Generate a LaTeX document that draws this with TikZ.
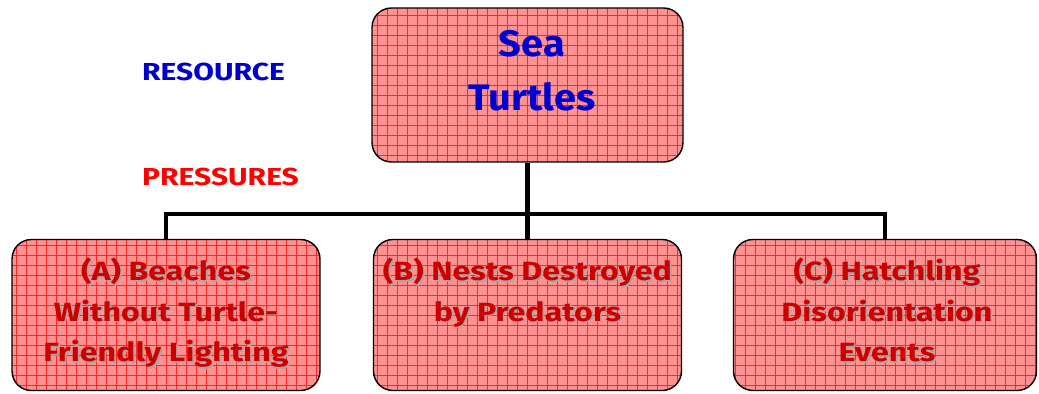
\documentclass[tikz,border=0pt]{standalone}
\usepackage{fontspec}
\setmainfont[FakeStretch=1.22]{Fira Sans}
\newfontfamily\topfont[FakeStretch=1.08]{Fira Sans}
\usepackage{tikz}
\usetikzlibrary{positioning}
\definecolor{boxfill}{RGB}{255,145,145}
\definecolor{gridcol}{RGB}{250,40,40}
\definecolor{rescol}{RGB}{0,0,204}
\definecolor{prescol}{RGB}{255,0,0}
\definecolor{txtred}{RGB}{204,0,0}
\newcommand{\shd}[1]{\rlap{\kern0.9pt\raisebox{-0.9pt}{\color{gray!70}#1}}#1}

\begin{document}
\begin{tikzpicture}[
  x=0.02cm, y=-0.02cm,
  font=\bfseries,
  gridbox/.style={draw=black, thick, rounded corners=11pt, fill=boxfill,
                  path picture={\draw[gridcol, line width=0.3pt, step=0.2cm]
                    (path picture bounding box.south west) grid (path picture bounding box.north east);}},
  pbox/.style={gridbox, minimum width=6.16cm, minimum height=3.02cm},
  ptxt/.style={anchor=north, align=center, text=txtred, font=\fontsize{15}{23}\selectfont\bfseries},
  tie/.style={line width=2.6pt, draw=black},
  ]
  \useasboundingbox (0,0) rectangle (1039,393);
  % resource
  \node[gridbox, minimum width=6.22cm, minimum height=3.08cm] (res) at (527.5,85) {};
  \node[anchor=north, align=center, text=rescol, font=\topfont\fontsize{21}{31}\selectfont\bfseries]
    (restxt) at (532,24) {Sea\\ Turtles};
  % pressures
  \node[pbox] (pa) at (166,315) {};
  \node[pbox] (pb) at (527.5,315) {};
  \node[pbox, minimum width=6.06cm] (pc) at (885,315) {};
  \node[ptxt] (pat) at (166,252) {\shd{(A) Beaches}\\ \shd{Without Turtle-}\\ \shd{Friendly Lighting}};
  \node[ptxt] (pbt) at (527.5,252) {\shd{(B) Nests Destroyed}\\ \shd{by Predators}};
  \node[ptxt] (pct) at (887,252) {\shd{(C) Hatchling}\\ \shd{Disorientation}\\ \shd{Events}};
  % side labels
  \node[anchor=west, text=rescol, font=\fontsize{14}{16}\selectfont\bfseries] (lres) at (136,72) {RESOURCE};
  \node[anchor=west, text=prescol, font=\fontsize{14}{16}\selectfont\bfseries] (lpre) at (136,177) {PRESSURES};
  % connectors
  \coordinate (j) at (527.5,214);
  \draw[tie] (res.south) -- (j);
  \draw[tie] (pa.north) |- (j) -| (pc.north);
  \draw[tie] (j) -- (pb.north);
\end{tikzpicture}
\end{document}
